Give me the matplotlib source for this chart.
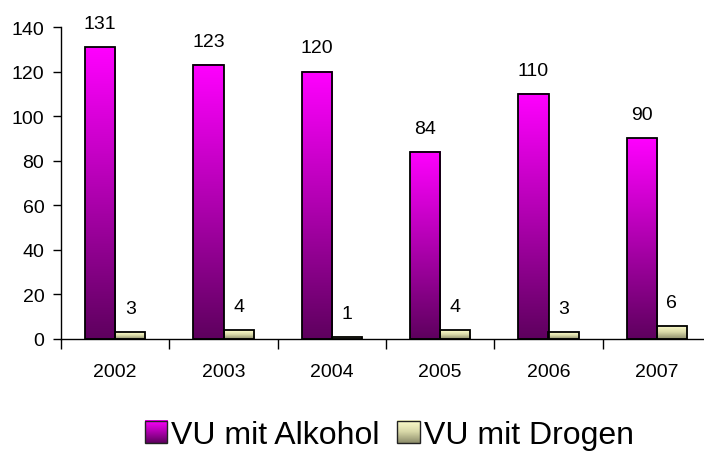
import numpy as np
import matplotlib
matplotlib.use("Agg")
import matplotlib.pyplot as plt
from matplotlib.colors import LinearSegmentedColormap
from matplotlib.legend_handler import HandlerBase
from matplotlib.image import BboxImage
from matplotlib.transforms import Bbox, TransformedBbox
from matplotlib.patches import Rectangle

# Data
years = ["2002", "2003", "2004", "2005", "2006", "2007"]
alkohol = [131, 123, 120, 84, 110, 90]
drogen = [3, 4, 1, 4, 3, 6]
series_names = ["VU mit Alkohol", "VU mit Drogen"]

plt.rcParams['font.family'] = ['Liberation Sans', 'DejaVu Sans']

# gradients: bottom colour -> top colour
cmap_alk = LinearSegmentedColormap.from_list("alk", ["#5e005e", "#b000b0", "#ff00ff"])
cmap_dro = LinearSegmentedColormap.from_list("dro", ["#8c8c6a", "#d8d8a8", "#ffffcc"])
grad = np.linspace(0, 1, 256).reshape(-1, 1)


class GradientHandler(HandlerBase):
    def __init__(self, cmap):
        super().__init__()
        self.cmap = cmap

    def create_artists(self, legend, orig_handle, xdescent, ydescent,
                       width, height, fontsize, trans):
        bb = Bbox.from_bounds(-xdescent, -ydescent, width, height)
        img = BboxImage(TransformedBbox(bb, trans), cmap=self.cmap,
                        interpolation='bilinear', origin='lower')
        img.set_data(grad)
        border = Rectangle((-xdescent, -ydescent), width, height,
                           facecolor='none', edgecolor='#222222', lw=1.0,
                           transform=trans)
        return [img, border]


fig = plt.figure(figsize=(7.04, 4.52), dpi=100)
ax = fig.add_axes([61 / 704, 112 / 452, 650 / 704, 312 / 452])

x = np.arange(len(years))
w = 0.277

def gradient_bars(xs, vals, cmap):
    bars = ax.bar(xs, vals, w, facecolor='none', edgecolor='black',
                  linewidth=1.3, zorder=3)
    for b in bars:
        x0, y0 = b.get_x(), b.get_y()
        ax.imshow(grad, extent=[x0, x0 + b.get_width(), y0, y0 + b.get_height()],
                  origin='lower', aspect='auto', cmap=cmap, zorder=2,
                  interpolation='bilinear')
    return bars

b1 = gradient_bars(x - w / 2, alkohol, cmap_alk)
b2 = gradient_bars(x + w / 2, drogen, cmap_dro)

for xs, vals in ((x - w / 2, alkohol), (x + w / 2, drogen)):
    for xi, v in zip(xs, vals):
        ax.annotate(str(v), (xi, v), xytext=(0, 17), textcoords='offset points',
                    ha='center', va='center', fontsize=14)

ax.set_xlim(-0.5, len(years) - 0.5)
ax.set_ylim(0, 140)
ax.set_yticks(np.arange(0, 141, 20))
ax.set_xticks(x)
ax.set_xticklabels(years)
ax.set_xticks(np.arange(-0.5, len(years)), minor=True)
ax.tick_params(axis='x', which='major', length=0, pad=17, labelsize=14)
ax.tick_params(axis='x', which='minor', length=7, width=1, direction='out')
ax.tick_params(axis='y', length=6, width=1, direction='out', pad=6, labelsize=14)

for s in ('top', 'right'):
    ax.spines[s].set_visible(False)
for s in ('left', 'bottom'):
    ax.spines[s].set_linewidth(1)
    ax.spines[s].set_color('black')

h1 = Rectangle((0, 0), 1, 1)
h2 = Rectangle((0, 0), 1, 1)
fig.legend([h1, h2], series_names, loc='center', bbox_to_anchor=(0.553, 0.035),
           ncol=2, frameon=False, fontsize=23, handlelength=0.7, handleheight=0.7,
           handletextpad=0.12, columnspacing=0.55,
           handler_map={h1: GradientHandler(cmap_alk), h2: GradientHandler(cmap_dro)})

fig.savefig("out.png", dpi=100)
